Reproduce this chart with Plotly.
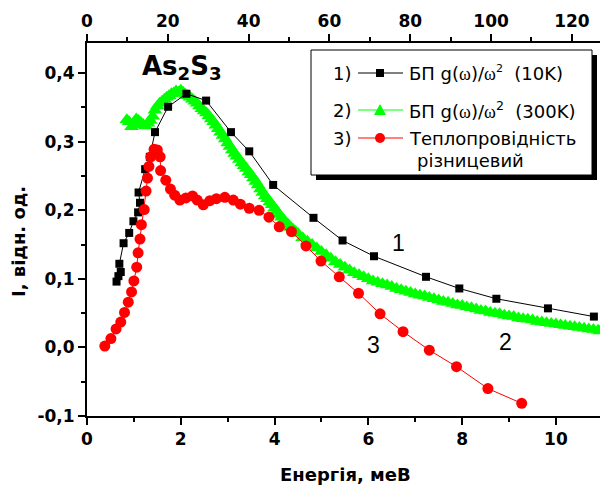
import plotly.graph_objects as go

# ---------------- data ----------------
energy_10K = [0.63, 0.67, 0.72, 0.69, 0.78, 0.90, 0.99, 1.09, 1.13, 1.10, 1.24, 1.34, 1.45,
              1.73, 2.12, 2.54, 3.07, 3.46, 3.97, 4.83, 5.45, 6.12, 7.23, 7.94, 8.73, 9.83, 10.81]
intensity_10K = [0.096, 0.104, 0.110, 0.122, 0.152, 0.167, 0.184, 0.197, 0.211, 0.226, 0.260, 0.278, 0.314,
                 0.351, 0.370, 0.360, 0.314, 0.286, 0.237, 0.189, 0.156, 0.133, 0.103, 0.086, 0.071, 0.057, 0.045]

energy_300K = [0.85, 0.90, 0.95, 1.00, 1.05, 1.10, 1.15, 1.20, 1.25, 1.30, 1.35, 1.40, 1.45, 1.50,
               1.55, 1.60, 1.65, 1.70, 1.75, 1.80, 1.85, 1.90, 1.95, 2.00, 2.05, 2.10, 2.15, 2.20,
               2.25, 2.30, 2.35, 2.40, 2.45, 2.50, 2.55, 2.60, 2.65, 2.70, 2.75, 2.80, 2.85, 2.90,
               2.95, 3.00, 3.05, 3.10, 3.15, 3.20, 3.25, 3.30, 3.35, 3.40, 3.45, 3.50, 3.55, 3.60,
               3.65, 3.70, 3.75, 3.80, 3.85, 3.90, 3.95, 4.00, 4.05, 4.10, 4.15, 4.20, 4.25, 4.30,
               4.35, 4.40, 4.45, 4.50, 4.60, 4.70, 4.80, 4.90, 5.00, 5.10, 5.20, 5.30, 5.40, 5.50,
               5.60, 5.70, 5.80, 5.90, 6.00, 6.10, 6.20, 6.30, 6.40, 6.50, 6.60, 6.70, 6.80, 6.90,
               7.00, 7.10, 7.20, 7.30, 7.40, 7.50, 7.60, 7.70, 7.80, 7.90, 8.00, 8.10, 8.20, 8.30,
               8.40, 8.50, 8.60, 8.70, 8.80, 8.90, 9.00, 9.10, 9.20, 9.30, 9.40, 9.50, 9.60, 9.70,
               9.80, 9.90, 10.00, 10.10, 10.20, 10.30, 10.40, 10.50, 10.60, 10.70, 10.80, 10.90, 10.94]
intensity_300K = [0.332, 0.329, 0.322, 0.325, 0.333, 0.331, 0.328, 0.325, 0.323, 0.327, 0.331, 0.337,
                  0.346, 0.352, 0.356, 0.359, 0.362, 0.365, 0.367, 0.370, 0.371, 0.374, 0.372, 0.375,
                  0.372, 0.369, 0.367, 0.365, 0.362, 0.359, 0.356, 0.352, 0.348, 0.345, 0.342, 0.338,
                  0.333, 0.329, 0.324, 0.319, 0.314, 0.309, 0.304, 0.298, 0.293, 0.288, 0.283, 0.279,
                  0.274, 0.269, 0.265, 0.261, 0.256, 0.252, 0.247, 0.242, 0.237, 0.231, 0.226, 0.221,
                  0.217, 0.212, 0.208, 0.203, 0.199, 0.194, 0.190, 0.186, 0.182, 0.179, 0.175, 0.172,
                  0.169, 0.166, 0.160, 0.155, 0.150, 0.145, 0.140, 0.135, 0.130, 0.125, 0.121, 0.117,
                  0.113, 0.109, 0.106, 0.103, 0.100, 0.097, 0.095, 0.093, 0.091, 0.089, 0.086, 0.084,
                  0.082, 0.080, 0.078, 0.076, 0.075, 0.073, 0.071, 0.069, 0.067, 0.066, 0.064, 0.062,
                  0.061, 0.059, 0.058, 0.056, 0.054, 0.053, 0.051, 0.050, 0.049, 0.047, 0.046, 0.045,
                  0.043, 0.042, 0.041, 0.040, 0.038, 0.037, 0.036, 0.035, 0.034, 0.033, 0.032, 0.031,
                  0.030, 0.029, 0.028, 0.027, 0.026, 0.025, 0.024]

energy_tc = [0.38, 0.51, 0.62, 0.72, 0.80, 0.88, 0.95, 1.00, 1.06, 1.09, 1.13, 1.16, 1.22, 1.26,
             1.29, 1.32, 1.36, 1.43, 1.50, 1.56, 1.57, 1.68, 1.78, 1.87, 1.98, 2.11, 2.25, 2.35,
             2.48, 2.62, 2.76, 2.94, 3.12, 3.27, 3.46, 3.67, 3.88, 4.10, 4.36, 4.67, 4.99, 5.38,
             5.79, 6.25, 6.74, 7.30, 7.88, 8.55, 9.27]
intensity_tc = [0.002, 0.013, 0.027, 0.037, 0.051, 0.066, 0.081, 0.097, 0.117, 0.138, 0.158, 0.179,
                0.201, 0.228, 0.247, 0.264, 0.278, 0.289, 0.288, 0.278, 0.258, 0.244, 0.231, 0.222,
                0.215, 0.218, 0.221, 0.215, 0.208, 0.214, 0.217, 0.219, 0.215, 0.209, 0.203, 0.200,
                0.190, 0.176, 0.169, 0.148, 0.126, 0.103, 0.079, 0.049, 0.023, -0.004, -0.028,
                -0.060, -0.0815]

y_tick_vals = [-0.1, 0.0, 0.1, 0.2, 0.3, 0.4]
y_tick_text = ["-0,1", "0,0", "0,1", "0,2", "0,3", "0,4"]
x_tick_vals = [0, 2, 4, 6, 8, 10]
x_tick_text = ["0", "2", "4", "6", "8", "10"]
top_tick_vals = [0, 20, 40, 60, 80, 100, 120]
top_tick_text = ["0", "20", "40", "60", "80", "100", "120"]

X_MAX = 10.94
K_PER_MEV = 11.6045

# ---------------- layout geometry ----------------
W, H = 601, 490
L, R, T, B = 87, 1, 43, 74
PW, PH = W - L - R, H - T - B


def px(x):
    return (x - L) / PW


def py(y):
    return (H - B - y) / PH


BOLD = "'DejaVu Sans', sans-serif"
REG = "'DejaVu Sans', sans-serif"
ARIAL = "Arial, 'Liberation Sans', sans-serif"

fig = go.Figure()

fig.add_trace(go.Scatter(
    x=energy_300K, y=intensity_300K, mode="lines+markers",
    line=dict(color="#00ff00", width=1),
    marker=dict(symbol="triangle-up", size=13, color="#00ff00", line=dict(width=0)),
    showlegend=False))

fig.add_trace(go.Scatter(
    x=energy_10K, y=intensity_10K, mode="lines+markers",
    line=dict(color="black", width=1),
    marker=dict(symbol="square", size=8, color="black", line=dict(width=0)),
    showlegend=False))

fig.add_trace(go.Scatter(
    x=energy_tc, y=intensity_tc, mode="lines+markers",
    line=dict(color="#ff0000", width=1),
    marker=dict(symbol="circle", size=11, color="#ff0000", line=dict(width=0)),
    showlegend=False))

axis_common = dict(showline=True, linecolor="black", linewidth=2, ticks="outside",
                   ticklen=7, tickwidth=2, tickcolor="black", showgrid=False, zeroline=False,
                   tickfont=dict(family=BOLD, size=17, color="black", weight="bold"))

fig.update_layout(
    width=W, height=H,
    margin=dict(l=L, r=R, t=T, b=B, pad=0),
    paper_bgcolor="white", plot_bgcolor="white",
    showlegend=False,
    xaxis=dict(range=[0, X_MAX], tickmode="array", tickvals=x_tick_vals, ticktext=x_tick_text,
               minor=dict(tickmode="linear", tick0=0, dtick=1, ticklen=4, tickwidth=2,
                          tickcolor="black", ticks="outside", showgrid=False),
               **axis_common),
    xaxis2=dict(range=[0, X_MAX * K_PER_MEV], overlaying="x", side="top", anchor="y",
                tickmode="array", tickvals=top_tick_vals, ticktext=top_tick_text,
                minor=dict(tickmode="linear", tick0=0, dtick=10, ticklen=4, tickwidth=2,
                           tickcolor="black", ticks="outside", showgrid=False),
                **axis_common),
    yaxis=dict(range=[-0.1, 0.444], tickmode="array", tickvals=y_tick_vals, ticktext=y_tick_text,
               minor=dict(tickmode="linear", tick0=0, dtick=0.05, ticklen=4, tickwidth=2,
                          tickcolor="black", ticks="outside", showgrid=False),
               **axis_common),
)

# invisible trace so the top (Kelvin) axis is anchored
fig.add_trace(go.Scatter(x=[0], y=[0], xaxis="x2", yaxis="y", mode="markers",
                         marker=dict(opacity=0), hoverinfo="skip", showlegend=False))

annotations = []
shapes = []

# axis titles
annotations.append(dict(text="Енергія, меВ", x=px(345), y=py(474), xref="paper", yref="paper",
                        showarrow=False, xanchor="center", yanchor="middle",
                        font=dict(family=BOLD, size=18, color="black", weight="bold")))
annotations.append(dict(text="I, відн. од.", x=px(18), y=py(242), xref="paper", yref="paper",
                        showarrow=False, xanchor="center", yanchor="middle", textangle=-90,
                        font=dict(family=BOLD, size=18, color="black", weight="bold")))

# compound label
annotations.append(dict(text="As<sub>2</sub>S<sub>3</sub>", x=px(140), y=py(67), xref="paper",
                        yref="paper", showarrow=False, xanchor="left", yanchor="middle",
                        font=dict(family=BOLD, size=26, color="black", weight="bold")))

# curve numbers
for txt, xx, yy in [("1", 398, 243), ("2", 505, 342), ("3", 373, 345)]:
    annotations.append(dict(text=txt, x=px(xx), y=py(yy), xref="paper", yref="paper",
                            showarrow=False, xanchor="center", yanchor="middle",
                            font=dict(family=ARIAL, size=23, color="black")))

# legend box with shadow
bx0, bx1, by0, by1 = 311, 592, 50, 175
shapes.append(dict(type="rect", xref="paper", yref="paper", x0=px(bx0 + 5), x1=px(bx1 + 5),
                   y0=py(by1 + 5), y1=py(by0 + 5), fillcolor="black", line=dict(width=0)))
shapes.append(dict(type="rect", xref="paper", yref="paper", x0=px(bx0), x1=px(bx1),
                   y0=py(by1), y1=py(by0), fillcolor="white", line=dict(color="black", width=1)))

OMEGA = "<span style=\"font-family:'Liberation Serif', serif\">ω</span>"
rows = [
    ("1)", "black", "square", 73,
     "БП g(" + OMEGA + ")/" + OMEGA + "<sup><span style=\"font-size:11px\">2</span></sup>  (10K)"),
    ("2)", "#00ff00", "triangle", 110,
     "БП g(" + OMEGA + ")/" + OMEGA + "<sup>2</sup>  (300K)"),
    ("3)", "#ff0000", "circle", 138, "Теплопровідність"),
]
for num, col, sym, yy, label in rows:
    annotations.append(dict(text=num, x=px(353), y=py(yy), xref="paper", yref="paper",
                            showarrow=False, xanchor="right", yanchor="middle",
                            font=dict(family=REG, size=18, color="black")))
    shapes.append(dict(type="line", xref="paper", yref="paper", x0=px(358), x1=px(403),
                       y0=py(yy), y1=py(yy), line=dict(color=col, width=1)))
    if sym == "square":
        shapes.append(dict(type="rect", xref="paper", yref="paper", x0=px(376), x1=px(384),
                           y0=py(yy + 4), y1=py(yy - 4), fillcolor=col, line=dict(width=0)))
    elif sym == "circle":
        shapes.append(dict(type="circle", xref="paper", yref="paper", x0=px(375), x1=px(385),
                           y0=py(yy + 5), y1=py(yy - 5), fillcolor=col, line=dict(width=0)))
    else:
        path = "M {:.5f} {:.5f} L {:.5f} {:.5f} L {:.5f} {:.5f} Z".format(
            px(374), py(yy + 5), px(386), py(yy + 5), px(380), py(yy - 6))
        shapes.append(dict(type="path", xref="paper", yref="paper", path=path,
                           fillcolor=col, line=dict(width=0)))
    annotations.append(dict(text=label, x=px(407), y=py(yy), xref="paper", yref="paper",
                            showarrow=False, xanchor="left", yanchor="middle",
                            font=dict(family=REG, size=18, color="black")))

annotations.append(dict(text="різницевий", x=px(415), y=py(160), xref="paper", yref="paper",
                        showarrow=False, xanchor="left", yanchor="middle",
                        font=dict(family=REG, size=18, color="black")))

fig.update_layout(annotations=annotations, shapes=shapes)

fig.write_html("out.html")
